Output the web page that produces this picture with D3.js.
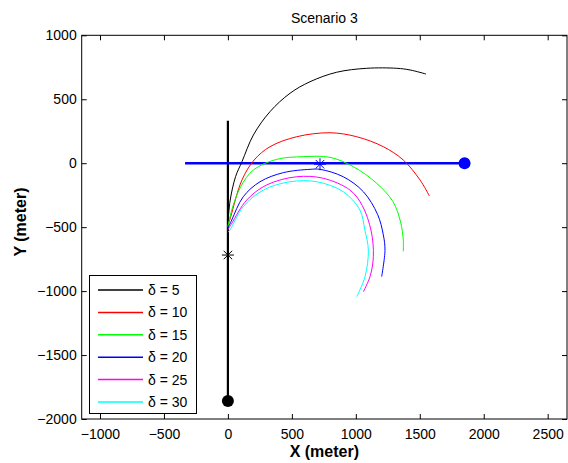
<!DOCTYPE html>
<html>
<head>
<meta charset="utf-8">
<script src="https://cdn.jsdelivr.net/npm/d3@7"></script>
<style>
  body { margin: 0; background: #fff; }
  svg { display: block; font-family: "Liberation Sans", Arial, sans-serif; }
</style>
</head>
<body>
<svg id="chart" width="568" height="463"></svg>
<script>
// Axis ticks
const xTicks = [-1000, -500, 0, 500, 1000, 1500, 2000, 2500];
const yTicks = [-2000, -1500, -1000, -500, 0, 500, 1000];

// Legend labels and colours of the trajectories
const deltas = [5, 10, 15, 20, 25, 30];
const colors = ["#000000", "#ff0000", "#00ff00", "#0000ff", "#ff00ff", "#00ffff"];

// Trajectory points [x, y] in metres, one array per delta
const pathD5  = [[0,-470],[18,-288],[60,-105],[110,12],[199,220],[329,403],[486,547],[642,637],[850,711],[1085,742],[1320,742],[1424,729],[1549,697]];
const pathD10 = [[0,-490],[22,-418],[110,-131],[205,25],[329,129],[538,207],[798,238],[1007,207],[1215,129],[1371,25],[1502,-131],[1575,-256]];
const pathD15 = [[0,-500],[30,-366],[100,-184],[199,-53],[381,30],[590,51],[798,46],[980,-27],[1163,-157],[1290,-300],[1350,-460],[1371,-600],[1371,-690]];
const pathD20 = [[0,-510],[30,-444],[120,-262],[251,-145],[433,-74],[642,-48],[720,-48],[902,-106],[1059,-223],[1170,-400],[1215,-560],[1228,-680],[1202,-887]];
const pathD25 = [[0,-520],[30,-470],[147,-288],[303,-170],[538,-106],[746,-118],[954,-210],[1050,-330],[1120,-530],[1137,-731],[1111,-887],[1059,-1005]];
const pathD30 = [[0,-540],[16,-522],[120,-340],[277,-210],[486,-145],[694,-145],[902,-223],[1032,-366],[1070,-520],[1098,-679],[1072,-887],[1007,-1044]];
const paths = [pathD5, pathD10, pathD15, pathD20, pathD25, pathD30];

// Reference tracks: vertical (black) and horizontal (blue)
const trackV = [[0, 332], [0, -1859]];
const trackH = [[-335, 0], [1850, 0]];
const endV = [0, -1859];
const endH = [1850, 0];
const starV = [0, -718];
const starH = [720, -8];

const svg = d3.select("#chart");
const plotLeft = 81.7, plotRight = 567, plotTop = 35.3, plotBottom = 419;

const x = d3.scaleLinear().domain([-1143, 2651]).range([plotLeft, plotRight]);
const y = d3.scaleLinear().domain([-2000, 1000]).range([plotBottom, plotTop]);

// Frame
svg.append("rect")
  .attr("x", plotLeft).attr("y", plotTop)
  .attr("width", plotRight - plotLeft).attr("height", plotBottom - plotTop)
  .attr("fill", "#fff").attr("stroke", "#000").attr("stroke-width", 1);

const fontSize = "14px";
function styleAxis(g, showLabels) {
  g.select(".domain").remove();
  g.selectAll(".tick line").attr("stroke", "#000");
  g.selectAll(".tick text").attr("fill", "#000").style("font-size", fontSize);
  if (!showLabels) g.selectAll(".tick text").remove();
}

svg.append("g").attr("transform", `translate(0,${plotBottom})`)
  .call(d3.axisBottom(x).tickValues(xTicks).tickSize(-5).tickPadding(10).tickFormat(d3.format("d")))
  .call(g => styleAxis(g, true));
svg.append("g").attr("transform", `translate(0,${plotTop})`)
  .call(d3.axisTop(x).tickValues(xTicks).tickSize(-5))
  .call(g => styleAxis(g, false));
svg.append("g").attr("transform", `translate(${plotLeft},0)`)
  .call(d3.axisLeft(y).tickValues(yTicks).tickSize(-5).tickPadding(5).tickFormat(d3.format("d")))
  .call(g => styleAxis(g, true));
svg.append("g").attr("transform", `translate(${plotRight},0)`)
  .call(d3.axisRight(y).tickValues(yTicks).tickSize(-5))
  .call(g => styleAxis(g, false));

const line = d3.line().x(d => x(d[0])).y(d => y(d[1])).curve(d3.curveCatmullRom.alpha(0.5));
const straight = d3.line().x(d => x(d[0])).y(d => y(d[1]));

const plot = svg.append("g");

// Tracks
plot.append("path").attr("d", straight(trackV)).attr("fill", "none")
  .attr("stroke", "#000").attr("stroke-width", 2.2);
plot.append("path").attr("d", straight(trackH)).attr("fill", "none")
  .attr("stroke", "#0000ff").attr("stroke-width", 2.5);

// Trajectories
paths.forEach((p, i) => {
  plot.append("path").attr("d", line(p)).attr("fill", "none")
    .attr("stroke", colors[i]).attr("stroke-width", 1);
});

// End points
plot.append("circle").attr("cx", x(endV[0])).attr("cy", y(endV[1])).attr("r", 6).attr("fill", "#000");
plot.append("circle").attr("cx", x(endH[0])).attr("cy", y(endH[1])).attr("r", 6).attr("fill", "#0000ff");

// Asterisk markers
function asterisk(pt, color, s) {
  const cx = x(pt[0]), cy = y(pt[1]);
  const g = plot.append("g").attr("stroke", color).attr("stroke-width", 1);
  const d = s * 0.7071;
  [[-s,0,s,0],[0,-s,0,s],[-d,-d,d,d],[-d,d,d,-d]].forEach(l => {
    g.append("line").attr("x1", cx + l[0]).attr("y1", cy + l[1])
      .attr("x2", cx + l[2]).attr("y2", cy + l[3]);
  });
}
asterisk(starV, "#000", 6);
asterisk(starH, "#0000ff", 6);

// Title and axis labels
svg.append("text").attr("x", (plotLeft + plotRight) / 2).attr("y", 23)
  .attr("text-anchor", "middle").style("font-size", fontSize).text("Scenario 3");
svg.append("text").attr("x", (plotLeft + plotRight) / 2).attr("y", 457)
  .attr("text-anchor", "middle").style("font-size", "16px").style("font-weight", "bold").text("X (meter)");
svg.append("text").attr("transform", `translate(26,222) rotate(-90)`)
  .attr("text-anchor", "middle").style("font-size", "16px").style("font-weight", "bold").text("Y (meter)");

// Legend
const lg = svg.append("g");
lg.append("rect").attr("x", 89.5).attr("y", 275.5).attr("width", 107).attr("height", 138)
  .attr("fill", "#fff").attr("stroke", "#000").attr("stroke-width", 1);
deltas.forEach((dv, i) => {
  const ly = 290 + i * 22.4;
  lg.append("line").attr("x1", 98).attr("x2", 143).attr("y1", ly).attr("y2", ly)
    .attr("stroke", colors[i]).attr("stroke-width", 1.5);
  lg.append("text").attr("x", 148).attr("y", ly + 5).style("font-size", fontSize)
    .text("δ = " + dv);
});
</script>
</body>
</html>
